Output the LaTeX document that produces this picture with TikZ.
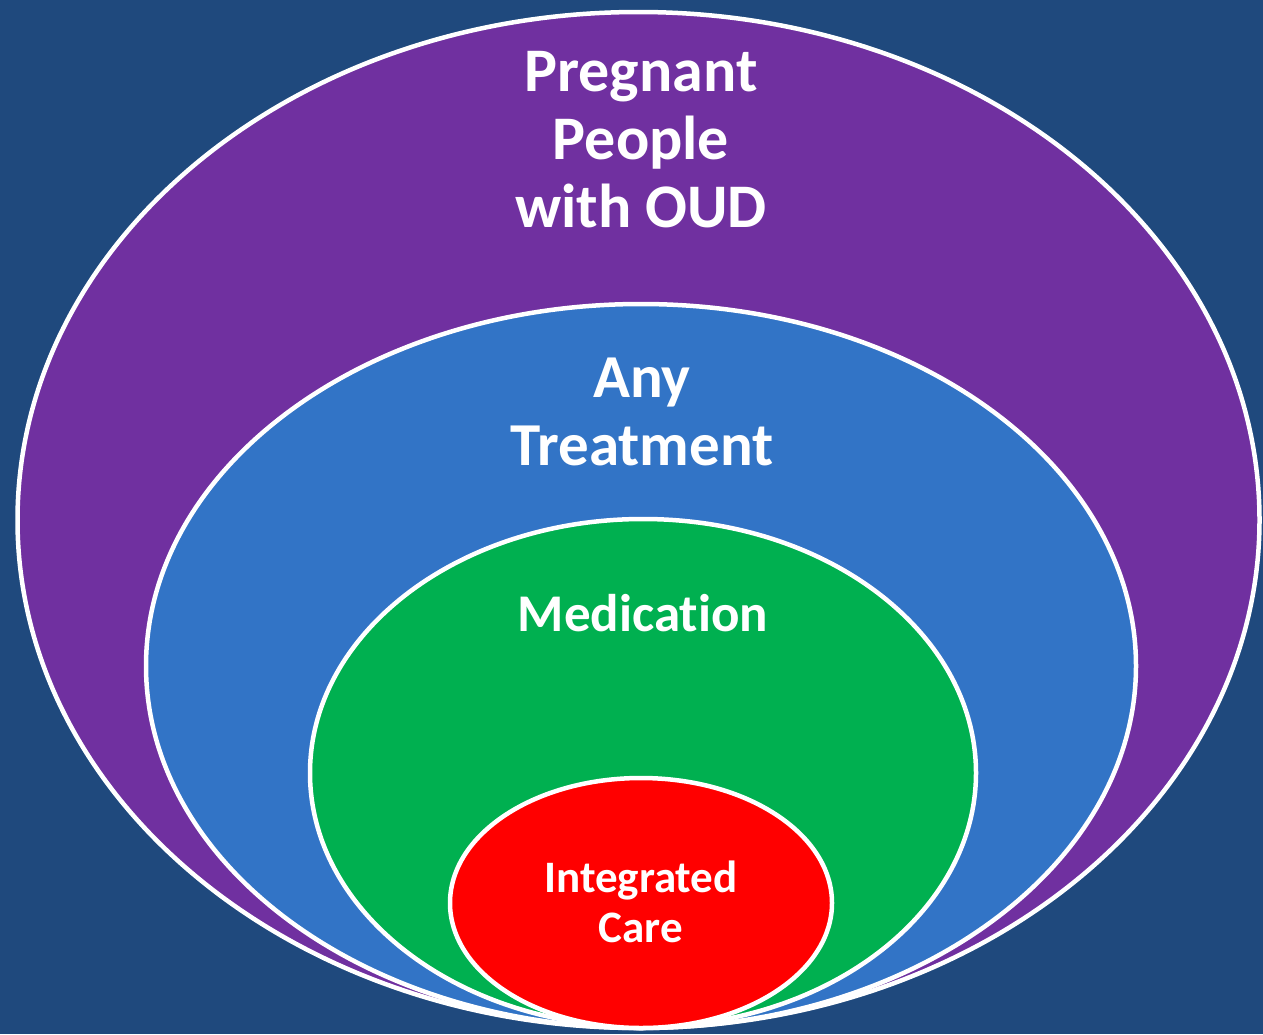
\documentclass[tikz,border=0pt]{standalone}
\usepackage{fontspec}
\setmainfont{Carlito}[Ligatures=NoCommon]
\definecolor{bg}{HTML}{1F497D}
\definecolor{cpurple}{HTML}{7030A0}
\definecolor{cblue}{HTML}{3274C6}
\definecolor{cgreen}{HTML}{00B050}
\definecolor{cred}{HTML}{FF0000}
\begin{document}
\begin{tikzpicture}[x=1pt,y=-1pt,
  ring/.style={draw=white,line width=4.5pt},
  lbl/.style={text=white,align=center,inner sep=0pt}]
\fill[bg] (0,0) rectangle (1263,1034);
\useasboundingbox (0,0) rectangle (1263,1034);
\path[ring,fill=cpurple] (638.5,520) ellipse [x radius=621,y radius=508];
\path[ring,fill=cblue] (641,666) ellipse [x radius=495,y radius=362];
\path[ring,fill=cgreen] (643,773) ellipse [x radius=333,y radius=254];
\path[ring,fill=cred] (641,903) ellipse [x radius=191,y radius=125];
\node[lbl,font=\fontsize{62}{68}\selectfont\bfseries] (pp) at (641,139.5) {Pregnant\\People\\with OUD};
\node[lbl,font=\fontsize{61}{68}\selectfont\bfseries] (at) at (642,412) {Any\\Treatment};
\node[lbl,font=\fontsize{53}{55}\selectfont\bfseries] (med) at (643,613) {Medication};
\node[lbl,font=\fontsize{45}{50}\selectfont\bfseries] (ic) at (641,902) {Integrated\\Care};
\end{tikzpicture}
\end{document}
